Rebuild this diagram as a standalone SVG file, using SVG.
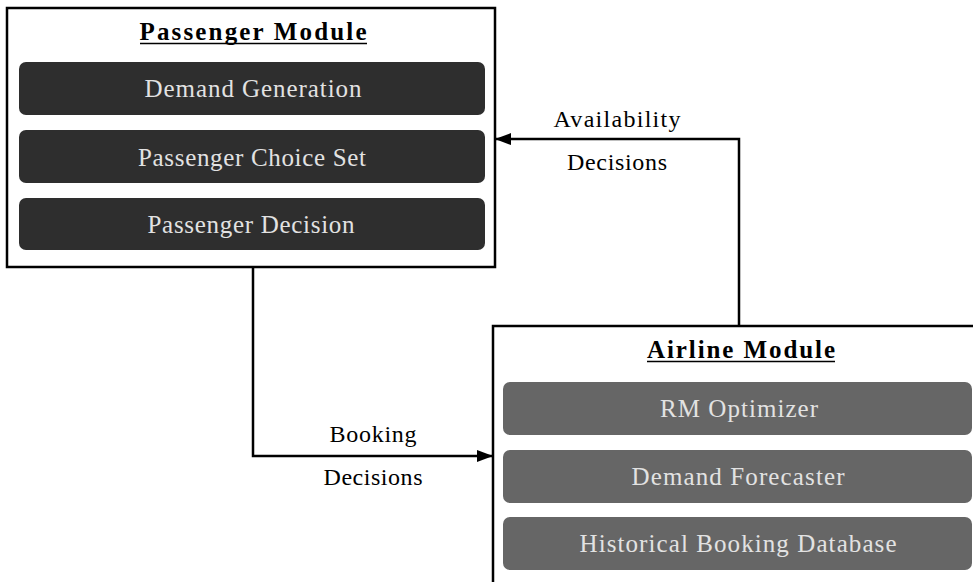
<svg xmlns="http://www.w3.org/2000/svg" width="973" height="582" viewBox="0 0 973 582">
<style>
.box{fill:#fff;stroke:#000;stroke-width:2.5}
.pbar{fill:#2e2e2e}
.abar{fill:#666}
.bt{font-family:"Liberation Serif","DejaVu Serif",serif;font-size:25px;fill:#e2e2e2;text-anchor:middle}
.title{font-family:"Liberation Serif","DejaVu Serif",serif;font-size:25px;font-weight:bold;fill:#000;text-anchor:middle}
.ul{stroke:#000;stroke-width:1.5}
.lbl{font-family:"Liberation Serif","DejaVu Serif",serif;font-size:24px;fill:#000;text-anchor:middle}
.conn{fill:none;stroke:#000;stroke-width:2.5}
</style>
<defs>
<marker id="arr" markerWidth="16" markerHeight="12" refX="15" refY="6" orient="auto" markerUnits="userSpaceOnUse" viewBox="0 0 16 12">
<path d="M0,0 L16,6 L0,12 z" fill="#000"/>
</marker>
</defs>
<rect width="973" height="582" fill="#fff"/>
<g id="connectors">
<path class="conn" d="M253,267 V456 H492" marker-end="url(#arr)"/>
<path class="conn" d="M739,326 V139 H496" marker-end="url(#arr)"/>
<text class="lbl" x="617" y="127" textLength="127">Availability</text>
<text class="lbl" x="617" y="170" textLength="100">Decisions</text>
<text class="lbl" x="373" y="442" textLength="87">Booking</text>
<text class="lbl" x="373" y="485" textLength="99">Decisions</text>
</g>
<g id="passenger-module">
<rect class="box" x="7" y="8" width="488" height="259"/>
<text class="title" x="253" y="40" textLength="227">Passenger Module</text>
<line class="ul" x1="140" y1="43.5" x2="367" y2="43.5"/>
</g>
<g id="demand-generation">
<rect class="pbar" x="19" y="62" width="466" height="53" rx="7"/>
<text class="bt" x="253" y="97" textLength="217">Demand Generation</text>
</g>
<g id="passenger-choice-set">
<rect class="pbar" x="19" y="130" width="466" height="53" rx="7"/>
<text class="bt" x="252" y="166" textLength="228">Passenger Choice Set</text>
</g>
<g id="passenger-decision">
<rect class="pbar" x="19" y="198" width="466" height="52" rx="7"/>
<text class="bt" x="251" y="233" textLength="207">Passenger Decision</text>
</g>
<g id="airline-module">
<rect class="box" x="493" y="326" width="495" height="270"/>
<text class="title" x="741" y="358" textLength="188">Airline Module</text>
<line class="ul" x1="647" y1="361.5" x2="835" y2="361.5"/>
</g>
<g id="rm-optimizer">
<rect class="abar" x="503" y="382" width="469" height="53" rx="7"/>
<text class="bt" x="739" y="417" textLength="158">RM Optimizer</text>
</g>
<g id="demand-forecaster">
<rect class="abar" x="503" y="450" width="469" height="53" rx="7"/>
<text class="bt" x="738" y="485" textLength="213">Demand Forecaster</text>
</g>
<g id="historical-booking-database">
<rect class="abar" x="503" y="517" width="469" height="53" rx="7"/>
<text class="bt" x="738" y="552" textLength="317">Historical Booking Database</text>
</g>
</svg>
